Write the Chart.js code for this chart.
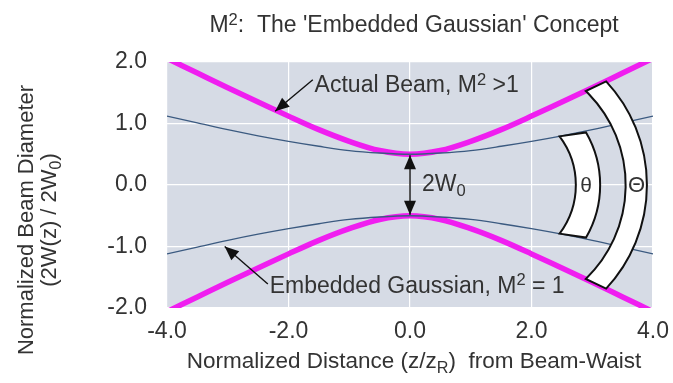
<!DOCTYPE html>
<html>
<head>
<meta charset="utf-8">
<script src="https://cdn.jsdelivr.net/npm/chart.js@4"></script>
<style>
  html, body { margin: 0; padding: 0; background: #fff; }
  canvas { display: block; }
</style>
</head>
<body>
<canvas id="beamChart" width="673" height="383"></canvas>
<script>
// Values
const zPositions = [-4, -3.5, -3, -2.5, -2, -1.5, -1, -0.5, 0, 0.5, 1, 1.5, 2, 2.5, 3, 3.5, 4];
const actualBeamUpper = [2.06, 1.82, 1.58, 1.35, 1.12, 0.90, 0.71, 0.56, 0.50, 0.56, 0.71, 0.90, 1.12, 1.35, 1.58, 1.82, 2.06];
const embeddedUpper = [1.12, 1.01, 0.90, 0.80, 0.71, 0.63, 0.56, 0.52, 0.50, 0.52, 0.56, 0.63, 0.71, 0.80, 0.90, 1.01, 1.12];
const actualBeamLower = actualBeamUpper.map(v => -v);
const embeddedLower = embeddedUpper.map(v => -v);

const xTicks = [-4, -2, 0, 2, 4];
const yTicks = [-2, -1, 0, 1, 2];

const FONT = '"Liberation Sans", Arial, sans-serif';
const TEXT_COLOR = '#333333';

function toPoints(xs, ys) {
    return xs.map((x, i) => ({x: x, y: ys[i]}));
}

// draws text made of pieces, some of them sub/superscript
function drawRich(ctx, parts, x, y, size, align) {
    ctx.save();
    ctx.textBaseline = 'middle';
    ctx.textAlign = 'left';
    let total = 0;
    parts.forEach(p => {
        ctx.font = (p.sub || p.sup ? size * 0.72 : size) + 'px ' + FONT;
        p.w = ctx.measureText(p.t).width;
        total += p.w;
    });
    let cx = x;
    if (align === 'center') cx = x - total / 2;
    if (align === 'right') cx = x - total;
    parts.forEach(p => {
        ctx.font = (p.sub || p.sup ? size * 0.72 : size) + 'px ' + FONT;
        let dy = 0;
        if (p.sub) dy = size * 0.3;
        if (p.sup) dy = -size * 0.25;
        ctx.fillText(p.t, cx, y + dy);
        cx += p.w;
    });
    ctx.restore();
}

function arrowHead(ctx, fromX, fromY, toX, toY, len, wid) {
    const ang = Math.atan2(toY - fromY, toX - fromX);
    ctx.beginPath();
    ctx.moveTo(toX, toY);
    ctx.lineTo(toX - len * Math.cos(ang) + wid / 2 * Math.sin(ang), toY - len * Math.sin(ang) - wid / 2 * Math.cos(ang));
    ctx.lineTo(toX - len * Math.cos(ang) - wid / 2 * Math.sin(ang), toY - len * Math.sin(ang) + wid / 2 * Math.cos(ang));
    ctx.closePath();
    ctx.fill();
}

function arrow(ctx, x1, y1, x2, y2) {
    ctx.beginPath();
    ctx.moveTo(x1, y1);
    ctx.lineTo(x2, y2);
    ctx.stroke();
    arrowHead(ctx, x1, y1, x2, y2, 14, 12);
}

// white band shaped like a piece of a ring
function ringBand(ctx, cx, cy, rIn, rOut, angIn, angOut) {
    const ai = angIn * Math.PI / 180, ao = angOut * Math.PI / 180;
    ctx.beginPath();
    ctx.arc(cx, cy, rOut, -ao, ao, false);
    ctx.lineTo(cx + rIn * Math.cos(ai), cy + rIn * Math.sin(ai));
    ctx.arc(cx, cy, rIn, ai, -ai, true);
    ctx.closePath();
    ctx.fillStyle = '#ffffff';
    ctx.fill();
    ctx.strokeStyle = '#111111';
    ctx.lineWidth = 2;
    ctx.stroke();
}

const plotBackground = {
    id: 'plotBackground',
    beforeDraw(chart) {
        const {ctx, chartArea} = chart;
        ctx.save();
        ctx.fillStyle = '#d6dbe5';
        ctx.fillRect(chartArea.left, chartArea.top, chartArea.right - chartArea.left, chartArea.bottom - chartArea.top);
        ctx.restore();
    }
};

const annotations = {
    id: 'annotations',
    afterDatasetsDraw(chart) {
        const {ctx, scales} = chart;
        const X = v => scales.x.getPixelForValue(v);
        const Y = v => scales.y.getPixelForValue(v);
        const unit = X(1) - X(0);

        ctx.save();
        // angle bands
        const cx = X(1.4), cy = Y(0);
        ringBand(ctx, cx, cy, 1.33 * unit, 1.73 * unit, 37, 30);
        ringBand(ctx, cx, cy, 2.15 * unit, 2.5 * unit, 46, 43);
        ctx.fillStyle = TEXT_COLOR;
        drawRich(ctx, [{t: 'θ'}], cx + 1.5 * unit, cy + 1, 21, 'center');
        drawRich(ctx, [{t: 'Θ'}], cx + 2.33 * unit, cy + 1, 22, 'center');

        ctx.strokeStyle = '#111111';
        ctx.fillStyle = '#111111';
        ctx.lineWidth = 1.4;
        // 2W0 double arrow
        arrow(ctx, X(0), Y(0), X(0), Y(0.5) + 1);
        arrow(ctx, X(0), Y(0), X(0), Y(-0.5) - 1);
        // pointer arrows
        arrow(ctx, X(-1.6), Y(1.71), X(-2.22), Y(1.2));
        arrow(ctx, X(-2.34), Y(-1.61), X(-3.05), Y(-1.0));

        ctx.fillStyle = TEXT_COLOR;
        drawRich(ctx, [{t: '2W'}, {t: '0', sub: true}], X(0) + 12, Y(0), 23, 'left');
        drawRich(ctx, [{t: 'Actual Beam, M'}, {t: '2', sup: true}, {t: ' >1'}], X(-1.57), Y(1.61), 23, 'left');
        drawRich(ctx, [{t: 'Embedded Gaussian, M'}, {t: '2', sup: true}, {t: ' = 1'}], X(-2.31), Y(-1.65), 23, 'left');
        ctx.restore();
    },
    afterDraw(chart) {
        const {ctx, chartArea} = chart;
        const mid = (chartArea.left + chartArea.right) / 2;
        ctx.save();
        ctx.fillStyle = TEXT_COLOR;
        drawRich(ctx, [{t: 'M'}, {t: '2', sup: true}, {t: ':  The \'Embedded Gaussian\' Concept'}], mid + 4, 26, 23, 'center');
        drawRich(ctx, [{t: 'Normalized Distance (z/z'}, {t: 'R', sub: true}, {t: ')  from Beam-Waist'}], mid + 4, 362, 22.5, 'center');
        ctx.translate(27, 220);
        ctx.rotate(-Math.PI / 2);
        drawRich(ctx, [{t: 'Normalized Beam Diameter'}], 0, 0, 22, 'center');
        drawRich(ctx, [{t: '(2W(z) / 2W'}, {t: '0', sub: true}, {t: ')'}], 0, 23, 22, 'center');
        ctx.restore();
    }
};

function lineSet(label, ys, color, width) {
    return {
        label: label,
        data: toPoints(zPositions, ys),
        borderColor: color,
        borderWidth: width,
        pointRadius: 0,
        fill: false,
        cubicInterpolationMode: 'monotone'
    };
}

const config = {
    type: 'line',
    data: {
        datasets: [
            lineSet('Embedded Gaussian upper', embeddedUpper, '#3b5a80', 1.3),
            lineSet('Embedded Gaussian lower', embeddedLower, '#3b5a80', 1.3),
            lineSet('Actual Beam upper', actualBeamUpper, '#f01ef0', 5.5),
            lineSet('Actual Beam lower', actualBeamLower, '#f01ef0', 5.5)
        ]
    },
    options: {
        responsive: false,
        animation: false,
        devicePixelRatio: 1,
        layout: { padding: { top: 62, right: 20, left: 0, bottom: 0 } },
        plugins: {
            legend: { display: false },
            tooltip: { enabled: false }
        },
        scales: {
            x: {
                type: 'linear',
                min: -4, max: 4,
                afterFit: s => { s.height = 75; s.paddingLeft = 0; s.paddingRight = 0; },
                afterBuildTicks: s => { s.ticks = xTicks.map(v => ({value: v})); },
                grid: { color: '#ffffff', lineWidth: 1.2, drawTicks: false },
                border: { display: false },
                ticks: {
                    padding: 10,
                    color: TEXT_COLOR,
                    font: { family: FONT, size: 23 },
                    callback: v => v.toFixed(1)
                }
            },
            y: {
                type: 'linear',
                min: -2, max: 2,
                afterFit: s => { s.width = 167; s.paddingTop = 0; s.paddingBottom = 0; },
                afterBuildTicks: s => { s.ticks = yTicks.map(v => ({value: v})); },
                grid: { color: '#ffffff', lineWidth: 1.2, drawTicks: false },
                border: { display: false },
                ticks: {
                    padding: 20,
                    color: TEXT_COLOR,
                    font: { family: FONT, size: 23 },
                    callback: v => v.toFixed(1)
                }
            }
        }
    },
    plugins: [plotBackground, annotations]
};

const ctx = document.getElementById('beamChart').getContext('2d');
new Chart(ctx, config);
</script>
</body>
</html>
